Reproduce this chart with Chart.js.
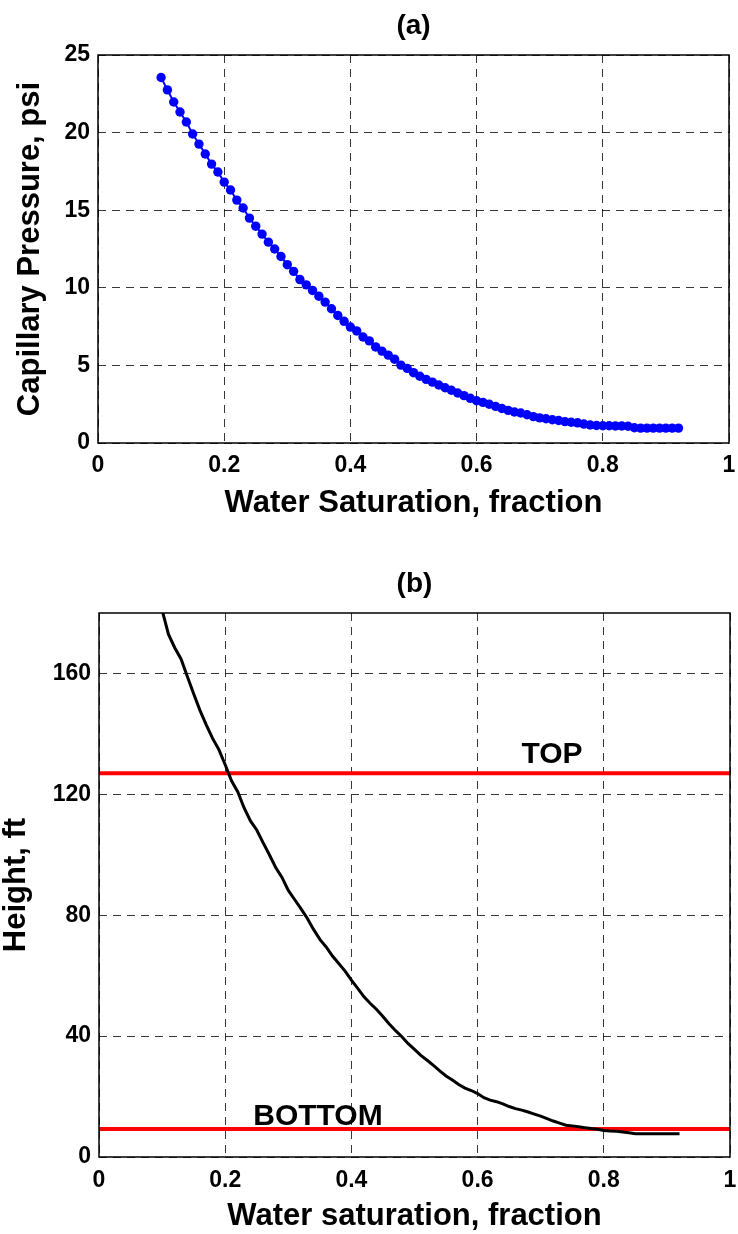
<!DOCTYPE html>
<html>
<head>
<meta charset="utf-8">
<script src="https://cdn.jsdelivr.net/npm/chart.js@4.4.1/dist/chart.umd.min.js"></script>
<style>
  html, body { margin: 0; padding: 0; background: #ffffff; }
  canvas { position: absolute; left: 0; }
</style>
</head>
<body>
<canvas id="c1" width="738" height="560" style="top:0px"></canvas>
<canvas id="c2" width="738" height="674" style="top:560px"></canvas>
<script>
// ---------------- data ----------------
const waterSat = [0.10,0.11,0.12,0.13,0.14,0.15,0.16,0.17,0.18,0.19,
                  0.20,0.21,0.22,0.23,0.24,0.25,0.26,0.27,0.28,0.29,
                  0.30,0.31,0.32,0.33,0.34,0.35,0.36,0.37,0.38,0.39,
                  0.40,0.41,0.42,0.43,0.44,0.45,0.46,0.47,0.48,0.49,
                  0.50,0.51,0.52,0.53,0.54,0.55,0.56,0.57,0.58,0.59,
                  0.60,0.61,0.62,0.63,0.64,0.65,0.66,0.67,0.68,0.69,
                  0.70,0.71,0.72,0.73,0.74,0.75,0.76,0.77,0.78,0.79,
                  0.80,0.81,0.82,0.83,0.84,0.85,0.86,0.87,0.88,0.89,
                  0.90,0.91,0.92];
const capPressure = [23.55,22.75,21.97,21.33,20.68,19.91,19.26,18.62,17.97,17.46,
                     16.81,16.30,15.65,15.14,14.49,13.97,13.46,12.94,12.50,12.02,
                     11.49,11.06,10.53,10.19,9.83,9.46,9.08,8.65,8.22,7.84,
                     7.47,7.22,6.83,6.58,6.19,5.92,5.66,5.40,5.02,4.81,
                     4.53,4.30,4.10,3.92,3.74,3.56,3.40,3.22,3.05,2.88,
                     2.72,2.62,2.50,2.36,2.22,2.10,2.00,1.93,1.82,1.70,
                     1.62,1.56,1.50,1.45,1.38,1.34,1.30,1.22,1.16,1.13,
                     1.11,1.11,1.10,1.10,1.08,0.98,0.96,0.96,0.96,0.96,
                     0.96,0.96,0.96];
const heightFt = [181,173.0,168.5,164.8,159.0,153.3,147.8,143.0,138.5,134.8,
                  129.8,124.5,120.8,115.5,111.2,108.2,104.0,100.0,95.8,92.5,
                  88.2,85.2,82.2,79.0,75.3,72.0,69.5,66.5,64.0,61.5,
                  58.5,55.8,53.0,50.8,48.8,46.5,44.0,41.8,39.8,37.5,
                  35.6,33.6,32.0,30.3,28.5,26.8,25.5,24.0,22.8,22.0,
                  21.0,19.6,18.8,18.3,17.6,16.7,16.0,15.5,14.9,14.2,
                  13.5,12.7,11.9,11.2,10.5,10.3,10.0,9.7,9.4,9.2,
                  8.8,8.6,8.5,8.3,8.0,7.7,7.7,7.7,7.7,7.7,
                  7.7,7.7,7.7];
const topLevel = 127;
const bottomLevel = 9.3;
const levelNames = ['TOP', 'BOTTOM'];
const levelLabelX = [0.718, 0.347];
const levelLabelY = [130.4, 10.5];

const xTicks = [0, 0.2, 0.4, 0.6, 0.8, 1];
const xTickLabels = ['0', '0.2', '0.4', '0.6', '0.8', '1'];
const pcTicks = [0, 5, 10, 15, 20, 25];
const pcTickLabels = ['0', '5', '10', '15', '20', '25'];
const hTicks = [0, 40, 80, 120, 160];
const hTickLabels = ['0', '40', '80', '120', '160'];

// ---------------- styling ----------------
Chart.defaults.color = '#000';
const ARIAL = '"Liberation Sans", Arial, Helvetica, sans-serif';
const TICKFONT = { family: ARIAL, size: 23, weight: 'bold' };
const AXISTITLEFONT = { family: ARIAL, size: 31, weight: 'bold', lineHeight: 1 };
const TITLEFONT = { family: ARIAL, size: 28, weight: 'bold' };
const GRIDCOLOR = 'rgba(0,0,0,0.78)';
const GRIDDASH = [8, 6];

const framePlugin = {
  id: 'frame',
  afterDatasetsDraw(chart) {
    const { ctx, chartArea: a } = chart;
    ctx.save();
    ctx.strokeStyle = '#000';
    ctx.lineWidth = 1.5;
    ctx.setLineDash([]);
    ctx.strokeRect(a.left, a.top, a.right - a.left, a.bottom - a.top);
    ctx.restore();
  }
};

function tickSetter(values) {
  return function (scale) { scale.ticks = values.map(v => ({ value: v })); };
}
function labelFrom(values, labels) {
  return function (value) {
    const i = values.findIndex(v => Math.abs(v - value) < 1e-9);
    return i >= 0 ? labels[i] : '';
  };
}

function axisX(titleText, titlePadBottom, axisHeight, tickPad) {
  return {
    type: 'linear', position: 'bottom', min: 0, max: 1,
    afterBuildTicks: tickSetter(xTicks),
    afterFit(s) { s.height = axisHeight; s.paddingLeft = 0; s.paddingRight = 0; },
    ticks: { font: TICKFONT, padding: tickPad, color: '#000', maxRotation: 0, autoSkip: false,
             callback: labelFrom(xTicks, xTickLabels) },
    grid: { color: GRIDCOLOR, lineWidth: 1, drawTicks: false },
    border: { display: false, dash: GRIDDASH },
    title: { display: true, text: titleText, font: AXISTITLEFONT, color: '#000',
             padding: { top: 0, bottom: titlePadBottom } }
  };
}
function axisY(min, max, ticks, labels, titleText, titlePadTop, axisWidth, tickPad) {
  return {
    type: 'linear', position: 'left', min: min, max: max,
    afterBuildTicks: tickSetter(ticks),
    afterFit(s) { s.width = axisWidth; s.paddingTop = 0; s.paddingBottom = 0; },
    ticks: { font: TICKFONT, padding: tickPad, color: '#000', autoSkip: false,
             callback: labelFrom(ticks, labels) },
    grid: { color: GRIDCOLOR, lineWidth: 1, drawTicks: false },
    border: { display: false, dash: GRIDDASH },
    title: { display: true, text: titleText, font: AXISTITLEFONT, color: '#000',
             padding: { top: titlePadTop, bottom: 0 } }
  };
}

// ---------------- chart (a) ----------------
new Chart(document.getElementById('c1'), {
  type: 'scatter',
  data: {
    datasets: [{
      data: waterSat.map((x, i) => ({ x: x, y: capPressure[i] })),
      showLine: true,
      borderColor: '#0000ff',
      borderWidth: 2,
      pointRadius: 4.7,
      pointBackgroundColor: '#0000ff',
      pointBorderWidth: 0,
      pointHoverRadius: 4.7
    }]
  },
  options: {
    responsive: false,
    animation: false,
    devicePixelRatio: 1,
    layout: { padding: { left: 0, right: 9, top: 0, bottom: 0 } },
    plugins: {
      legend: { display: false },
      tooltip: { enabled: false },
      title: { display: true, fullSize: false, text: '(a)', font: TITLEFONT, color: '#000',
               padding: { top: 9.9, bottom: 11.5 } }
    },
    scales: {
      x: axisX('Water Saturation, fraction', 41.5, 117, 9),
      y: axisY(0, 25, pcTicks, pcTickLabels, 'Capillary Pressure, psi', 14.5, 98, 8)
    }
  },
  plugins: [framePlugin]
});

// ---------------- chart (b) ----------------
const labelPlugin = {
  id: 'levelLabels',
  afterDatasetsDraw(chart) {
    const { ctx } = chart;
    const xs = chart.scales.x, ys = chart.scales.y;
    ctx.save();
    ctx.fillStyle = '#000';
    ctx.font = 'bold 30px ' + ARIAL;
    ctx.textAlign = 'center';
    ctx.textBaseline = 'alphabetic';
    levelNames.forEach((t, i) => {
      ctx.fillText(t, xs.getPixelForValue(levelLabelX[i]), ys.getPixelForValue(levelLabelY[i]));
    });
    ctx.restore();
  }
};

new Chart(document.getElementById('c2'), {
  type: 'scatter',
  data: {
    datasets: [
      {
        data: waterSat.map((x, i) => ({ x: x, y: heightFt[i] })),
        showLine: true,
        borderColor: '#000000',
        borderWidth: 3,
        pointRadius: 0,
        pointHoverRadius: 0
      },
      {
        data: [{ x: 0, y: topLevel }, { x: 1, y: topLevel }],
        showLine: true,
        borderColor: '#ff0000',
        borderWidth: 4,
        pointRadius: 0,
        pointHoverRadius: 0
      },
      {
        data: [{ x: 0, y: bottomLevel }, { x: 1, y: bottomLevel }],
        showLine: true,
        borderColor: '#ff0000',
        borderWidth: 4,
        pointRadius: 0,
        pointHoverRadius: 0
      }
    ]
  },
  options: {
    responsive: false,
    animation: false,
    devicePixelRatio: 1,
    layout: { padding: { left: 0, right: 8, top: 0, bottom: 0 } },
    plugins: {
      legend: { display: false },
      tooltip: { enabled: false },
      title: { display: true, fullSize: false, text: '(b)', font: TITLEFONT, color: '#000',
               padding: { top: 7.2, bottom: 12.2 } }
    },
    scales: {
      x: axisX('Water saturation, fraction', 1.8, 77, 10),
      y: axisY(0, 180, hTicks, hTickLabels, 'Height, ft', 1.2, 99, 8)
    }
  },
  plugins: [labelPlugin, framePlugin]
});
</script>
</body>
</html>
